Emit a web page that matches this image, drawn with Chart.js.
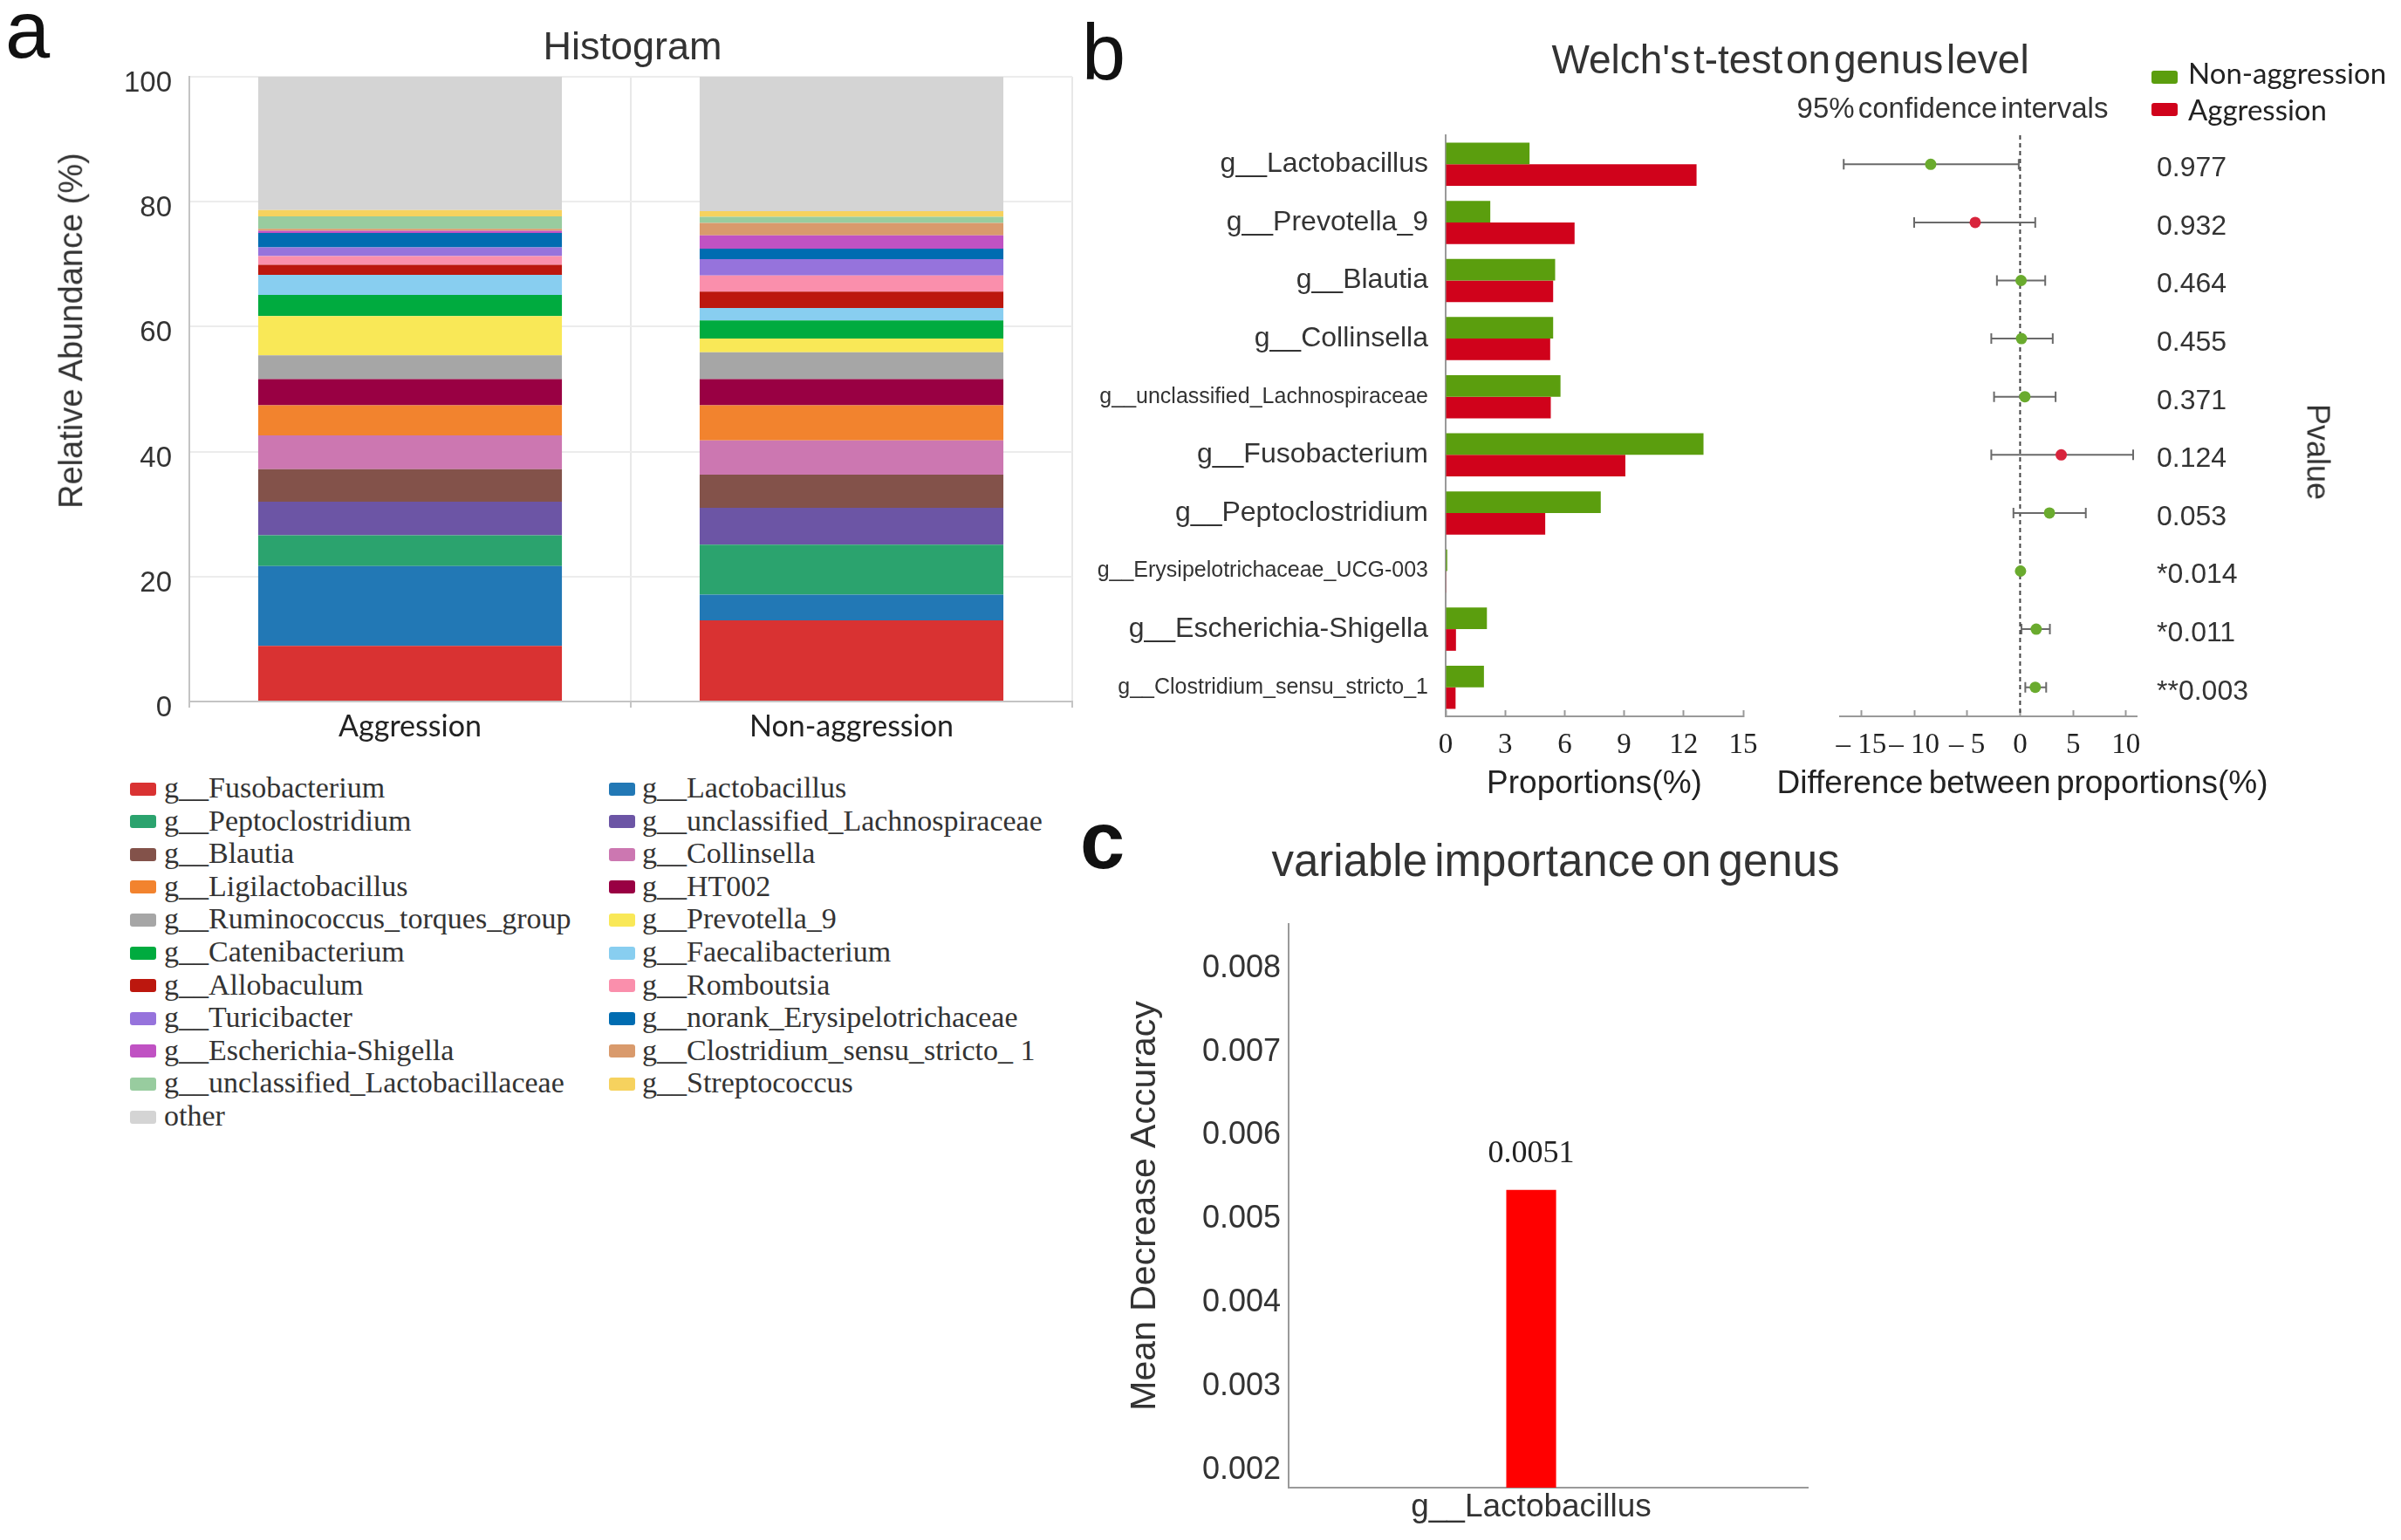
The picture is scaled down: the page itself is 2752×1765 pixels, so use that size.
<!DOCTYPE html>
<html><head><meta charset="utf-8">
<script src="https://cdn.jsdelivr.net/npm/chart.js@4.4.1/dist/chart.umd.min.js"></script>
<style>
html,body{margin:0;padding:0;background:#fff;}
#root{position:relative;width:2752px;height:1765px;overflow:hidden;background:#fff;}
canvas{position:absolute;}
.t{position:absolute;white-space:nowrap;color:#333;font-family:'Liberation Sans',Arial,sans-serif;}
.box{position:absolute;border-radius:3px;}
</style></head>
<body><div id="root">
<canvas id="cA" width="1240" height="880" style="left:0;top:0;width:1240px;height:880px"></canvas>
<canvas id="cB1" width="800" height="930" style="left:1240px;top:0;width:800px;height:930px"></canvas>
<canvas id="cB2" width="732" height="930" style="left:2020px;top:0;width:732px;height:930px"></canvas>
<canvas id="cC" width="860" height="835" style="left:1240px;top:930px;width:860px;height:835px"></canvas>
</div>
<script>
// ---------- Panel a data ----------
const groupsA = ['Aggression', 'Non-aggression'];
const genusA = ['g__Fusobacterium','g__Lactobacillus','g__Peptoclostridium','g__unclassified_Lachnospiraceae','g__Blautia','g__Collinsella','g__Ligilactobacillus','g__HT002','g__Ruminococcus_torques_group','g__Prevotella_9','g__Catenibacterium','g__Faecalibacterium','g__Allobaculum','g__Romboutsia','g__Turicibacter','g__norank_Erysipelotrichaceae','g__Escherichia-Shigella','g__Clostridium_sensu_stricto_ 1','g__unclassified_Lactobacillaceae','g__Streptococcus','other'];
const aggA    = [8.9, 12.8, 4.9, 5.4, 5.2, 5.4, 4.8, 4.2, 3.8, 6.3, 3.4, 3.2, 1.6, 1.4, 1.4, 2.3, 0.35, 0.3, 2.0, 1.0, 21.35];
const nonAggA = [13.0, 4.1, 8.0, 5.9, 5.3, 5.5, 5.6, 4.2, 4.3, 2.2, 2.9, 2.0, 2.6, 2.6, 2.6, 1.7, 2.1, 2.0, 1.0, 0.9, 21.5];
const yTicksA = [0, 20, 40, 60, 80, 100];
const colorsA = ['#d93232','#2278b5','#2ba36e','#6c55a5','#83524a','#cc77b1','#f2832e','#990043','#a6a6a6','#f9e857','#00ab3f','#88cef0','#bc170e','#fa8fac','#9673dc','#006cb1','#c052c3','#d99a6c','#98cc9f','#f6d25e','#d4d4d4'];

// ---------- Panel b data ----------
const genusB = ['g__Lactobacillus','g__Prevotella_9','g__Blautia','g__Collinsella','g__unclassified_Lachnospiraceae','g__Fusobacterium','g__Peptoclostridium','g__Erysipelotrichaceae_UCG-003','g__Escherichia-Shigella','g__Clostridium_sensu_stricto_1'];
const propNon = [4.23, 2.25, 5.52, 5.42, 5.79, 13.0, 7.82, 0.08, 2.08, 1.93];
const propAgg = [12.65, 6.5, 5.42, 5.27, 5.30, 9.06, 5.02, 0.03, 0.52, 0.5];
const diffMean = [-8.44, -4.24, 0.09, 0.13, 0.45, 3.88, 2.77, 0.04, 1.52, 1.43];
const ciLow  = [-16.65, -10.0, -2.19, -2.72, -2.46, -2.72, -0.63, -0.03, 0.13, 0.49];
const ciHigh = [-0.13, 1.43, 2.37, 3.08, 3.35, 10.67, 6.2, 0.1, 2.81, 2.46];
const dotGroup = ['Non-aggression','Aggression','Non-aggression','Non-aggression','Non-aggression','Aggression','Non-aggression','Non-aggression','Non-aggression','Non-aggression'];
const pLabels = ['0.977','0.932','0.464','0.455','0.371','0.124','0.053','*0.014','*0.011','**0.003'];
const propTicks = [0, 3, 6, 9, 12, 15];
const diffTicks = [-15, -10, -5, 0, 5, 10];
const legendB = ['Non-aggression', 'Aggression'];

// ---------- Panel c data ----------
const importanceGenus = ['g__Lactobacillus'];
const importanceValue = [0.00535];
const importanceLabel = ['0.0051'];
const yTicksC = [0.002, 0.003, 0.004, 0.005, 0.006, 0.007, 0.008];

// ---------- styles ----------
const SANS = "'Liberation Sans', Arial, sans-serif";
const SERIF = "'Liberation Serif', 'Times New Roman', serif";
const LATO = "Lato, 'Open Sans', sans-serif";
const greenB = '#5b9e0e', redB = '#d0021b';
const dotGreen = '#6aab2e', dotRed = '#d8243c';
const smallB = [4, 7, 9];

Chart.defaults.font.family = SANS;
Chart.defaults.color = '#333';

const root = document.getElementById('root');
function addText(txt, o) {
  const d = document.createElement('div');
  d.className = 't';
  d.textContent = txt;
  const s = d.style;
  s.fontSize = o.size + 'px';
  s.lineHeight = (o.size * 1.2) + 'px';
  if (o.family) s.fontFamily = o.family;
  if (o.weight) s.fontWeight = o.weight;
  if (o.color) s.color = o.color;
  if (o.ws !== undefined) s.wordSpacing = o.ws + 'px';
  if (o.ls !== undefined) s.letterSpacing = o.ls + 'px';
  s.left = o.x + 'px';
  s.top = o.y + 'px';
  let tr = o.align === 'left' ? 'translate(0,-50%)' : 'translate(-50%,-50%)';
  if (o.rotate) tr += ' rotate(' + o.rotate + 'deg)';
  s.transform = tr;
  root.appendChild(d);
}
function addBox(x, y, w, h, c) {
  const b = document.createElement('div');
  b.className = 'box';
  b.style.left = x + 'px'; b.style.top = (y - h / 2) + 'px';
  b.style.width = w + 'px'; b.style.height = h + 'px';
  b.style.background = c;
  root.appendChild(b);
}

// ---------- Panel a chart ----------
const chartA = new Chart(document.getElementById('cA'), {
  type: 'bar',
  data: {
    labels: groupsA,
    datasets: genusA.map((g, i) => ({
      label: g, data: [aggA[i], nonAggA[i]], backgroundColor: colorsA[i],
      borderWidth: 0, barPercentage: 0.688, categoryPercentage: 1
    }))
  },
  options: {
    responsive: false, animation: false,
    layout: { padding: { top: 88, right: 11, left: 0, bottom: 0 } },
    plugins: { legend: { display: false }, tooltip: { enabled: false } },
    scales: {
      x: {
        stacked: true,
        grid: { offset: true, color: '#e8e8e8', lineWidth: 2, tickLength: 7, tickColor: '#c4c4c4', tickWidth: 2 },
        border: { color: '#c4c4c4', width: 2 },
        ticks: { font: { family: LATO, size: 34 }, color: '#222', padding: 2 },
        afterFit: s => { s.height = 76; }
      },
      y: {
        stacked: true, min: 0, max: 100,
        afterBuildTicks: s => { s.ticks = yTicksA.map(v => ({ value: v })); },
        ticks: { font: { family: SANS, size: 33 }, color: '#333', padding: 20, labelOffset: 8 },
        grid: { color: '#ececec', lineWidth: 2, drawTicks: false },
        border: { color: '#c4c4c4', width: 2 },
        afterFit: s => { s.width = 217; }
      }
    }
  }
});

// panel a texts & legend
addText('a', { x: 6, y: 34, size: 92, align: 'left', color: '#111' });
addText('Histogram', { x: 725, y: 53, size: 45 });
addText('Relative  Abundance (%)', { x: 82, y: 379, size: 38, rotate: -90 });
chartA.data.datasets.forEach((ds, i) => {
  const col = i % 2, row = Math.floor(i / 2);
  const y = 903 + row * 37.6;
  addBox(col ? 698 : 149, y + 1, 30, 15, ds.backgroundColor);
  addText(ds.label, { x: col ? 736 : 188, y: y, size: 34, align: 'left', family: SERIF, color: '#333' });
});

// ---------- Panel b left chart ----------
new Chart(document.getElementById('cB1'), {
  type: 'bar',
  data: {
    labels: genusB,
    datasets: [
      { label: legendB[0], data: propNon, backgroundColor: greenB },
      { label: legendB[1], data: propAgg, backgroundColor: redB }
    ]
  },
  options: {
    indexAxis: 'y', responsive: false, animation: false,
    layout: { padding: { top: 155, right: 42, left: 0, bottom: 0 } },
    datasets: { bar: { categoryPercentage: 0.743, barPercentage: 1, borderWidth: 0 } },
    plugins: { legend: { display: false }, tooltip: { enabled: false } },
    scales: {
      x: {
        min: 0, max: 15,
        afterBuildTicks: s => { s.ticks = propTicks.map(v => ({ value: v })); },
        ticks: { font: { family: SERIF, size: 33 }, color: '#222', padding: 21 },
        grid: { drawOnChartArea: false, tickLength: -7, tickColor: '#9a9a9a', tickWidth: 2 },
        border: { color: '#9a9a9a', width: 2 },
        title: { display: true, text: 'Proportions(%)', font: { family: SANS, size: 37 }, color: '#222', padding: { top: 0, bottom: 9 } },
        afterFit: s => { s.height = 109; }
      },
      y: {
        ticks: {
          font: ctx => ({ family: SANS, size: smallB.includes(ctx.index) ? 25 : 32 }),
          color: '#333', padding: 20
        },
        grid: { display: false, drawTicks: false },
        border: { color: '#9a9a9a', width: 2 },
        afterFit: s => { s.width = 417; }
      }
    }
  }
});

// ---------- Panel b right chart ----------
const errorBars = {
  id: 'errorBars',
  beforeDatasetsDraw(chart) {
    const { ctx, chartArea, scales: { x, y } } = chart;
    ctx.save();
    // zero reference line
    ctx.strokeStyle = '#444'; ctx.lineWidth = 2; ctx.setLineDash([5, 4]);
    const x0 = x.getPixelForValue(0);
    ctx.beginPath(); ctx.moveTo(x0, chartArea.top); ctx.lineTo(x0, chartArea.bottom); ctx.stroke();
    ctx.setLineDash([]);
    ctx.strokeStyle = '#6a6a6a'; ctx.lineWidth = 2;
    ciLow.forEach((lo, i) => {
      const py = y.getPixelForValue(i);
      const a = x.getPixelForValue(lo), b = x.getPixelForValue(ciHigh[i]);
      ctx.beginPath();
      ctx.moveTo(a, py); ctx.lineTo(b, py);
      ctx.moveTo(a, py - 6); ctx.lineTo(a, py + 6);
      ctx.moveTo(b, py - 6); ctx.lineTo(b, py + 6);
      ctx.stroke();
    });
    ctx.restore();
  }
};
new Chart(document.getElementById('cB2'), {
  type: 'scatter',
  data: {
    datasets: [{
      data: diffMean.map((v, i) => ({ x: v, y: i })),
      pointRadius: 6.5, pointBorderWidth: 0,
      pointBackgroundColor: dotGroup.map(g => g === 'Aggression' ? dotRed : dotGreen)
    }]
  },
  options: {
    responsive: false, animation: false,
    layout: { padding: { top: 155, left: 89, right: 0, bottom: 0 } },
    plugins: { legend: { display: false }, tooltip: { enabled: false } },
    scales: {
      x: {
        type: 'linear', min: -17, max: 11,
        afterBuildTicks: s => { s.ticks = diffTicks.map(v => ({ value: v })); },
        ticks: { callback: v => v < 0 ? '\u2013 ' + Math.abs(v) : String(v), font: { family: SERIF, size: 33 }, color: '#222', padding: 21 },
        grid: { drawOnChartArea: false, tickLength: -7, tickColor: '#9a9a9a', tickWidth: 2 },
        border: { color: '#9a9a9a', width: 2 },
        afterFit: s => { s.height = 109; }
      },
      y: {
        type: 'category', labels: pLabels, position: 'right', offset: true,
        ticks: { font: { family: SANS, size: 32 }, color: '#333', padding: 23, labelOffset: 5 },
        grid: { display: false, drawTicks: false },
        border: { display: false },
        afterFit: s => { s.width = 303; }
      }
    }
  },
  plugins: [errorBars]
});

// panel b texts
addText('b', { x: 1240, y: 60, size: 90, align: 'left', color: '#111' });
addText("Welch's t-test on genus level", { x: 2052, y: 69, size: 46, ws: -9 });
addText('95% confidence intervals', { x: 2238, y: 124, size: 33, ws: -5 });
addText('Difference between proportions(%)', { x: 2318, y: 897, size: 37, ws: -4, color: '#222' });
addText('Pvalue', { x: 2657, y: 518, size: 36, rotate: 90 });
addBox(2466, 88, 30, 15, greenB);
addBox(2466, 125, 30, 15, redB);
addText(legendB[0], { x: 2508, y: 84, size: 33, align: 'left', family: LATO, color: '#222' });
addText(legendB[1], { x: 2508, y: 126, size: 33, align: 'left', family: LATO, color: '#222' });

// ---------- Panel c chart ----------
const valueLabels = {
  id: 'valueLabels',
  afterDatasetsDraw(chart) {
    const { ctx } = chart;
    ctx.save();
    ctx.font = '36px ' + SERIF;
    ctx.fillStyle = '#222'; ctx.textAlign = 'center'; ctx.textBaseline = 'middle';
    chart.getDatasetMeta(0).data.forEach((bar, i) => {
      ctx.fillText(importanceLabel[i], bar.x, bar.y - 41);
    });
    ctx.restore();
  }
};
new Chart(document.getElementById('cC'), {
  type: 'bar',
  data: {
    datasets: [{
      data: importanceValue.map((v, i) => ({ x: i, y: v })),
      backgroundColor: '#ff0000', borderWidth: 0, barPercentage: 0.096, categoryPercentage: 1
    }]
  },
  options: {
    responsive: false, animation: false,
    layout: { padding: { top: 129, right: 28, left: 0, bottom: 0 } },
    plugins: { legend: { display: false }, tooltip: { enabled: false } },
    scales: {
      x: {
        type: 'linear', min: -0.5, max: 0.57, offset: false,
        afterBuildTicks: s => { s.ticks = importanceGenus.map((g, i) => ({ value: i })); },
        grid: { display: false, drawTicks: false },
        border: { color: '#9a9a9a', width: 2 },
        ticks: { callback: v => importanceGenus[v], font: { family: SANS, size: 37 }, color: '#333', padding: 1 },
        afterFit: s => { s.height = 60; }
      },
      y: {
        min: 0.00179, max: 0.00853,
        afterBuildTicks: s => { s.ticks = yTicksC.map(v => ({ value: v })); },
        ticks: { callback: v => Number(v).toFixed(3), font: { family: SANS, size: 36 }, color: '#333', padding: 9 },
        grid: { display: false, drawTicks: false },
        border: { color: '#9a9a9a', width: 2 },
        title: { display: true, text: 'Mean Decrease Accuracy', font: { family: SANS, size: 41 }, color: '#333', padding: { top: 48, bottom: 0 } },
        afterFit: s => { s.width = 237; }
      }
    }
  },
  plugins: [valueLabels]
});

addText('c', { x: 1238, y: 963, size: 92, align: 'left', weight: 'bold', color: '#111' });
addText('variable importance on genus', { x: 1783, y: 987, size: 51, ws: -6 });
</script>
</body></html>
